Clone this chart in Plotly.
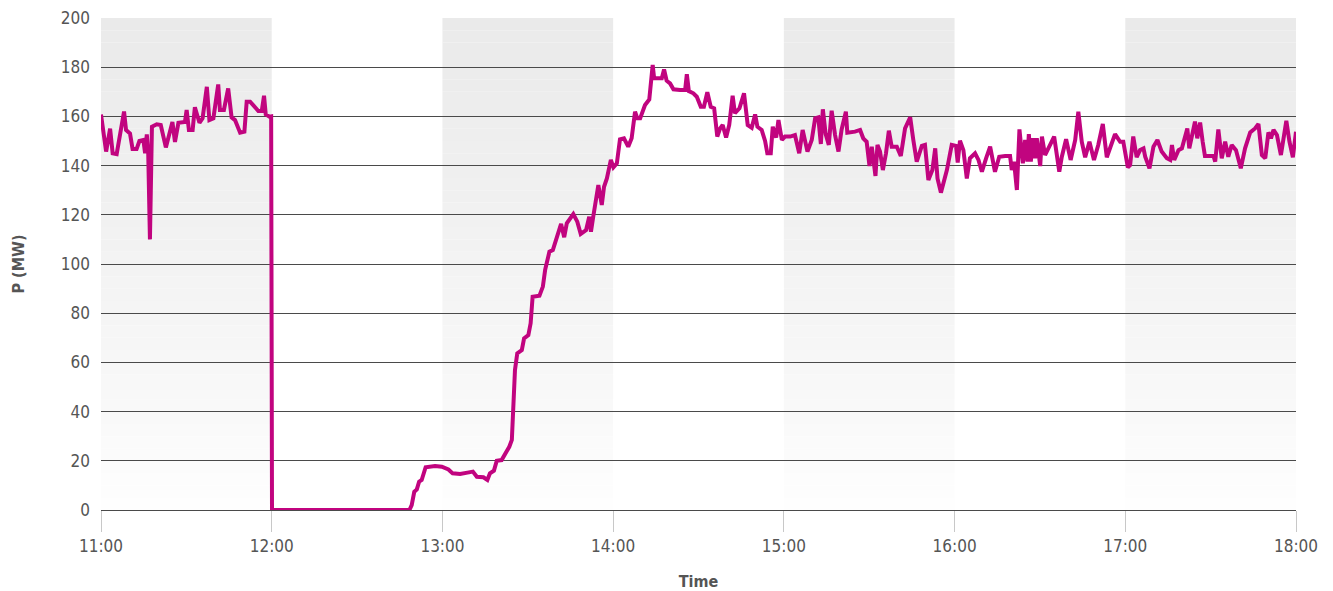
import pandas as pd
import plotly.graph_objects as go

# minutes after 11:00 and power in MW
minutes = [
    0, 1.8, 3.2, 4.1, 5.5, 8.1, 8.8, 10.2, 11.1, 12.5, 13.5, 14.9, 15.5, 16.1, 16.6, 17.2, 17.9,
    19.6, 21.0, 22.8, 25.1, 26.0, 27.2, 29.5, 30.1, 30.9, 32.2, 33.0, 34.6, 35.7, 37.2, 38.1,
    39.5, 41.2, 41.8, 43.2, 44.7, 45.9, 47.1, 48.9, 50.4, 51.2, 52.4, 55.3, 56.5, 57.3, 57.9,
    59.2, 59.8, 60.1,
    108.4, 109.2, 110.1, 111.0, 111.8, 112.7, 114.1, 117.4, 119.8, 122.1, 123.6, 126.2, 128.8,
    130.7, 132.1, 134.4, 135.8, 136.7, 138.1, 139.1, 140.8, 142.6, 143.5, 144.4, 144.9, 145.5,
    146.3, 147.9, 148.7, 150.2, 151.0, 151.7, 154.1, 155.3, 156.1, 157.6, 158.8, 160.2, 161.7,
    162.8, 163.7, 166.0, 167.4, 168.6, 170.5, 171.6, 172.2, 173.0, 174.0, 174.8, 176.0, 176.8,
    177.8, 179.2, 180.1, 181.3, 182.4, 183.8, 185.3, 186.5, 187.7, 188.5, 189.5, 191.2, 192.7,
    193.9, 194.4, 197.1, 197.9, 198.8, 200.0, 201.2, 203.5,
    205.3, 205.9, 206.6, 208.2, 209.4, 210.8, 211.9, 213.1, 214.3, 215.5, 216.6, 217.6, 218.5,
    219.7, 220.8, 222.0, 222.8, 224.4, 226.0, 227.3, 228.7, 229.9, 230.7, 232.2, 233.4, 234.2,
    235.4, 236.1, 237.3, 238.1, 239.3, 240.4, 242.2, 243.9, 245.4, 246.6, 248.3, 249.8, 251.0,
    252.1, 253.0, 253.7, 254.7, 255.8, 256.8, 258.0, 259.2, 260.3, 261.8, 262.3, 265.0, 266.8,
    267.9, 269.1, 270.1, 270.9, 271.7, 272.2, 272.9, 273.8, 274.8, 275.9, 276.9, 277.9, 279.7,
    281.1, 282.6, 284.4, 285.5, 286.7, 288.5, 289.6, 290.8, 292.2, 293.2, 294.0, 295.2, 297.3,
    299.0, 300.5, 301.1, 301.9, 303.1, 304.3, 305.4, 307.2, 308.4, 309.6, 311.1, 312.5, 314.2,
    315.7, 317.8, 319.5, 320.1, 320.9, 321.9, 322.8, 324.0, 324.8, 325.6, 326.1, 326.8, 327.5,
    328.3, 328.9, 330.1, 330.7, 331.8, 333.3, 335.0, 336.8, 337.7, 339.2, 340.8, 342.4, 343.5,
    344.7, 345.9, 347.4, 349.0, 350.5, 352.1, 353.5, 354.7, 356.4, 358.2, 359.3, 360.9, 361.7,
    362.8, 364.0, 365.2, 366.4, 367.0, 368.5, 369.9, 371.3, 372.8, 374.6, 375.8, 376.4, 377.2,
    378.7, 379.9, 381.0, 381.8, 382.5, 383.7, 384.5, 385.3, 386.3, 387.2, 388.0, 391.0, 391.6,
    392.7, 393.9, 395.1, 396.2, 397.4, 398.9, 400.6, 402.1, 403.9, 405.6, 406.8, 408.0, 409.2,
    410.3, 411.2, 412.1, 413.3, 414.7, 416.6, 417.7, 418.9, 420.0,
]
power = [
    160.8, 145.7, 155, 145, 144.7, 162, 154.5, 153, 146.7, 146.7, 150, 150.4, 145, 152.7, 145, 110, 155.8,
    156.8, 156.5, 147.4, 157.7, 149.6, 157.4, 157.7, 162.6, 154.5, 154.5, 163.7, 157.4, 159.2, 172, 158.5,
    159.2, 173, 162.6, 162.6, 171.4, 159.6, 158.5, 153.4, 153.8, 166, 166, 162.2, 162.2, 168.4, 160.8,
    159.9, 160, 0,
    0, 2, 7.4, 8.4, 11.5, 12.2, 17.4, 17.9, 17.6, 16.5, 14.9, 14.6, 15.2,
    15.6, 13.5, 13.3, 12.2, 14.9, 16, 20, 20.3, 23.7, 25.7, 28.5, 40.7, 56.9,
    63.7, 65, 69.8, 71.1, 75.9, 86.7, 87.1, 90.8, 97.6, 105, 105.7, 110.4, 116.3,
    110.9, 116.5, 120.3, 117.2, 112.2, 113.8, 119.2, 113.1, 119.2, 126, 132.1, 124, 131.4,
    134.8, 142.3, 139.3, 140.9, 150.7, 151.1, 147.7, 151.1, 161.9, 159.2, 159.2, 164.6, 166.9,
    180.9, 175.5, 175.5, 179.1, 174.5, 173.4, 171, 170.7,
    170.7, 177.1, 170.3, 169.4, 168, 163.9, 163.9, 169.8, 163.9, 163.3, 151.8, 155.1, 156.5,
    151.4, 156.5, 168.4, 161.3, 163.3, 169.4, 156.5, 155.4, 160.8, 155.8, 154.5, 150, 145,
    145, 155.8, 151.4, 158.5, 150.4, 151.8, 151.8, 152.4, 145, 154.5, 145.7, 150.4, 159.2,
    159.6, 148.8, 162.9, 152.8, 148.4, 162.3, 152.4, 145.7, 154.7, 161.9, 153.4, 153.8, 154.5,
    151.1, 149.7, 139.8, 147.7, 139.8, 135.8, 148.4, 145.7, 138.2, 145, 154.2, 147.7, 147.7,
    143.9, 155.1, 159.6, 150.4, 141.6, 148, 148.4, 134.1, 138.2, 147, 134.8, 129, 138.2,
    148.4, 148, 141.2, 150.1, 146.3, 134.8, 143, 145, 142.3, 137.5, 143, 147.7, 137.5,
    143.6, 143.9, 143.9, 138.2, 141.6, 130.1, 154.7, 140.9, 150.4, 141.6, 152.8, 141.6, 151.1,
    143, 151.1, 139.8, 151.8, 144.3, 147.7, 151.8, 137.5, 143.6, 150.7, 142.3, 150.4, 161.9,
    149.7, 143.4, 149.7, 142.3, 148.4, 156.9, 143.4, 147.7, 152.8, 149.7, 149.7, 139.3, 140.2,
    151.8, 143.4, 146.3, 147, 143.6, 138.9, 147.7, 150.4, 145.7, 143, 142.3, 148.4, 142.3,
    146.3, 147, 151.1, 155.1, 147, 154.5, 157.9, 151.1, 157.5, 149.7, 143.9, 143.9, 141.6,
    154.7, 143, 149.7, 143.6, 148.4, 146.3, 138.9, 147, 153.5, 155.1, 156.9, 144.3, 143,
    153.5, 151.1, 154.5, 152.4, 144.3, 158.2, 149.7, 143.4, 153.8,
]

shaded_hours = [("11:00", "12:00"), ("13:00", "14:00"), ("15:00", "16:00"), ("17:00", "18:00")]
tick_labels = ["11:00", "12:00", "13:00", "14:00", "15:00", "16:00", "17:00", "18:00"]

day = "2024-01-01 "
t = pd.Timestamp(day + "11:00") + pd.to_timedelta(minutes, unit="m")

fig = go.Figure()
fig.add_trace(go.Scatter(x=t, y=power, mode="lines",
                         line=dict(color="#c1047f", width=4), showlegend=False))

# gradient grey bands: stacked slices, darker at top
n = 40
for a, b in shaded_hours:
    for i in range(n):
        y0 = 200 * i / n
        y1 = 200 * (i + 1) / n
        g = int(round(255 - 21 * ((i + 0.5) / n) ** 0.8))
        fig.add_shape(type="rect", xref="x", yref="y", x0=day + a, x1=day + b, y0=y0, y1=y1,
                      fillcolor=f"rgb({g},{g},{g})", line_width=0, layer="below")

font = "Liberation Sans Narrow, DejaVu Sans Condensed, Roboto Condensed, Arial Narrow, sans-serif"
# the page body adds an 8px offset, so margins are shifted to compensate
fig.update_layout(
    width=1333, height=591,
    margin=dict(l=93, r=45, t=10, b=89),
    plot_bgcolor="white", paper_bgcolor="white",
    font=dict(family=font, size=17, color="#555"),
)
fig.update_xaxes(
    range=[day + "11:00", day + "18:00"], automargin=False,
    tickvals=[day + s for s in tick_labels], ticktext=tick_labels,
    showgrid=False, showline=False, zeroline=False,
    ticks="outside", ticklen=21, tickcolor="#c8c8c8", tickwidth=1,
    ticklabeloverflow="allow",
    title=dict(text="<b>Time</b>", font=dict(size=16, color="#555"), standoff=20),
)
fig.update_yaxes(
    range=[0, 200], dtick=20, automargin=False,
    showgrid=True, gridcolor="#4a4a4a", gridwidth=1.4,
    zeroline=True, zerolinecolor="#4a4a4a", zerolinewidth=1.4,
    showline=False, ticks="", ticklabelstandoff=10,
    ticklabeloverflow="allow",
    title=dict(text="<b>P (MW)</b>", font=dict(size=16, color="#555"), standoff=32),
)
fig.write_html("out.html")
